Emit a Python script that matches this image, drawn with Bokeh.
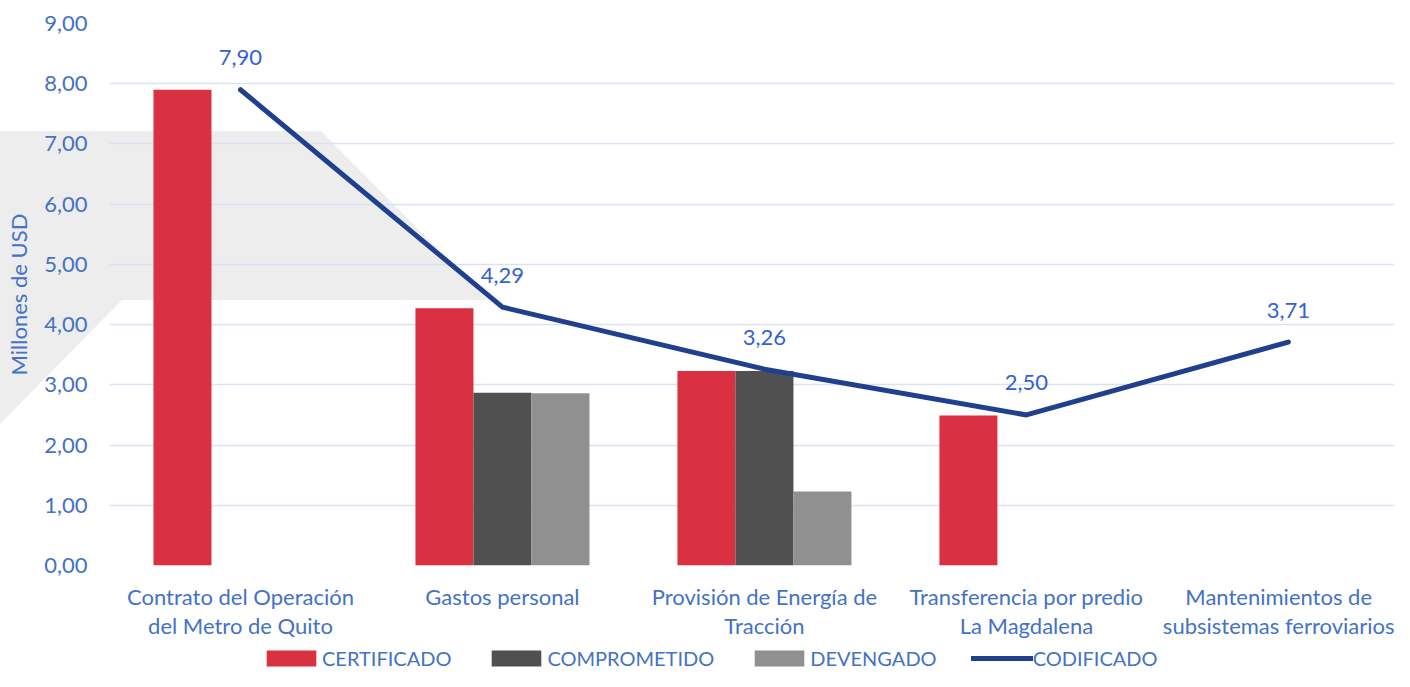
from bokeh.plotting import figure
from bokeh.layouts import column
from bokeh.models import (ColumnDataSource, Range1d, FixedTicker, Legend, LegendItem, LabelSet)
from bokeh.transform import dodge
from bokeh.core.properties import value
from bokeh.embed import file_html
from bokeh.resources import INLINE

# ---- data ----
categories = [
    "Contrato del Operación\ndel Metro de Quito",
    "Gastos personal",
    "Provisión de Energía de\nTracción",
    "Transferencia por predio\nLa Magdalena",
    "Mantenimientos de\nsubsistemas ferroviarios",
]
certificado = [7.90, 4.27, 3.23, 2.49, 0.0]
comprometido = [0.0, 2.87, 3.23, 0.0, 0.0]
devengado = [0.0, 2.86, 1.23, 0.0, 0.0]
codificado = [7.90, 4.29, 3.26, 2.50, 3.71]
codificado_labels = ["7,90", "4,29", "3,26", "2,50", "3,71"]
y_ticks = [0, 1, 2, 3, 4, 5, 6, 7, 8, 9]
y_tick_labels = ["0,00", "1,00", "2,00", "3,00", "4,00", "5,00", "6,00", "7,00", "8,00", "9,00"]
series_names = ["CERTIFICADO", "COMPROMETIDO", "DEVENGADO", "CODIFICADO"]

idx = list(range(len(categories)))
src = ColumnDataSource(dict(x=idx, cert=certificado, comp=comprometido, dev=devengado,
                            cod=codificado, lab=codificado_labels))

FONT = "Lato"
AXIS_BLUE = "#4472C4"
LABEL_BLUE = "#3362D2"
RED = "#D93042"
DARK = "#505050"
LIGHT = "#909090"
NAVY = "#203F8F"
GRID = "#D9E1F2"

W = 1394
LEG_H = 30
MAIN_H = 671 - LEG_H

# decorative grey background shape (not data) painted behind the transparent canvas
bg_svg = ("data:image/svg+xml;utf8,<svg xmlns='http://www.w3.org/2000/svg' width='1394' height='641'>"
          "<polygon points='0,131 321,131 488,300 122,300 0,424' fill='%23EDEDED'/></svg>")

p = figure(width=W, height=MAIN_H, output_backend="svg", toolbar_location=None,
           x_range=Range1d(-0.5, 4.405), y_range=Range1d(0, 9),
           min_border_left=109, min_border_right=0, min_border_top=23,
           min_border_bottom=MAIN_H - 565,
           styles={"background-image": f'url("{bg_svg}")', "background-repeat": "no-repeat",
                   "background-color": "white"})
p.outline_line_color = None
p.background_fill_color = None
p.border_fill_color = None

bw = 0.2214
p.vbar(x=dodge("x", -bw, range=p.x_range), top="cert", width=bw, source=src,
       fill_color=RED, line_color=None)
p.vbar(x=dodge("x", 0, range=p.x_range), top="comp", width=bw, source=src,
       fill_color=DARK, line_color=None)
p.vbar(x=dodge("x", bw, range=p.x_range), top="dev", width=bw, source=src,
       fill_color=LIGHT, line_color=None)
p.line(x="x", y="cod", source=src, line_color=NAVY, line_width=5,
       line_cap="round", line_join="round")

labels = LabelSet(x="x", y="cod", text="lab", source=src, y_offset=32,
                  text_align="center", text_baseline="middle",
                  text_font=value(FONT), text_font_size="22px", text_color=LABEL_BLUE)
p.add_layout(labels)

# axes
p.xgrid.grid_line_color = None
p.ygrid.grid_line_color = GRID
p.ygrid.grid_line_width = 1.6
p.ygrid.ticker = FixedTicker(ticks=y_ticks)

p.yaxis.ticker = FixedTicker(ticks=y_ticks)
p.yaxis.major_label_overrides = {t: l for t, l in zip(y_ticks, y_tick_labels)}
p.yaxis.axis_label = "Millones de USD"
p.yaxis.axis_label_text_font = FONT
p.yaxis.axis_label_text_font_style = "normal"
p.yaxis.axis_label_text_font_size = "22px"
p.yaxis.axis_label_text_color = AXIS_BLUE
p.yaxis.axis_label_standoff = 9
p.yaxis.major_label_text_font = FONT
p.yaxis.major_label_text_font_size = "22px"
p.yaxis.major_label_text_color = AXIS_BLUE
p.yaxis.major_label_standoff = 22
p.yaxis.axis_line_color = None
p.yaxis.major_tick_line_color = None
p.yaxis.minor_tick_line_color = None
p.yaxis.major_tick_out = 0
p.yaxis.major_tick_in = 0
p.yaxis.minor_tick_out = 0

p.xaxis.ticker = FixedTicker(ticks=idx)
p.xaxis.major_label_overrides = {i: c for i, c in zip(idx, categories)}
p.xaxis.major_label_text_font = FONT
p.xaxis.major_label_text_font_size = "22px"
p.xaxis.major_label_text_color = AXIS_BLUE
p.xaxis.major_label_text_align = "center"
p.xaxis.major_label_text_line_height = 1.08
p.xaxis.major_label_standoff = 17
p.xaxis.axis_line_color = None
p.xaxis.major_tick_line_color = None
p.xaxis.minor_tick_line_color = None
p.xaxis.major_tick_out = 0
p.xaxis.major_tick_in = 0
p.xaxis.minor_tick_out = 0

# ---- legend strip (its glyphs use the same data, kept outside the strip's visible range) ----
lg = figure(width=W, height=LEG_H, output_backend="svg", toolbar_location=None,
            x_axis_type=None, y_axis_type=None, x_range=Range1d(100, 101), y_range=Range1d(100, 101),
            min_border_left=0, min_border_right=0, min_border_top=0, min_border_bottom=0)
lg.outline_line_color = None
lg.grid.grid_line_color = None
l_cert = lg.vbar(x="x", top="cert", width=bw, source=src, fill_color=RED, line_color=None)
l_comp = lg.vbar(x="x", top="comp", width=bw, source=src, fill_color=DARK, line_color=None)
l_dev = lg.vbar(x="x", top="dev", width=bw, source=src, fill_color=LIGHT, line_color=None)
l_cod = lg.line(x="x", y="cod", source=src, line_color=NAVY, line_width=5, line_cap="round")

legend = Legend(items=[LegendItem(label=series_names[0], renderers=[l_cert]),
                       LegendItem(label=series_names[1], renderers=[l_comp]),
                       LegendItem(label=series_names[2], renderers=[l_dev]),
                       LegendItem(label=series_names[3], renderers=[l_cod])],
                orientation="horizontal", location=(151, 1),
                padding=0, margin=0, spacing=34, label_standoff=0,
                glyph_width=62, glyph_height=20,
                label_text_font=FONT, label_text_font_size="20px",
                label_text_color=AXIS_BLUE,
                border_line_color=None, background_fill_alpha=0)
lg.add_layout(legend, "center")

layout = column(p, lg, spacing=0)
open("out.html", "w").write(file_html(layout, INLINE))
